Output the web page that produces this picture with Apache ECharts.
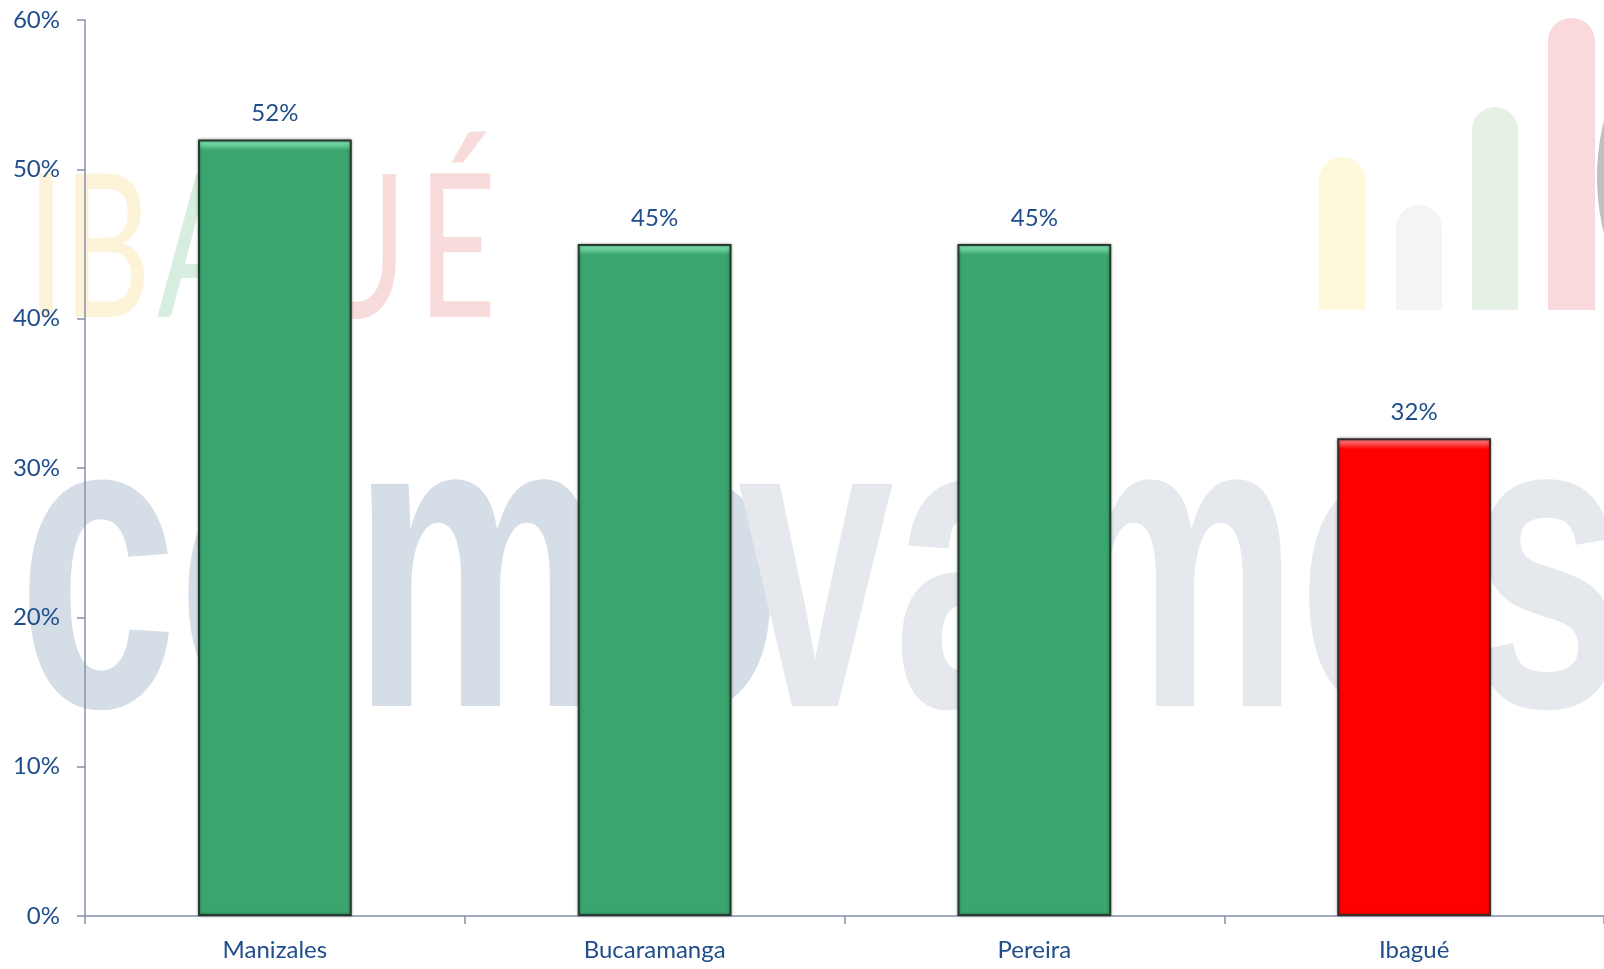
<!DOCTYPE html>
<html>
<head>
<meta charset="utf-8">
<script src="https://cdn.jsdelivr.net/npm/echarts@6/dist/echarts.min.js"></script>
<style>html,body{margin:0;padding:0;background:#fff;}#c{width:1604px;height:969px;}</style>
</head>
<body>
<div id="c"></div>
<script>
const categories = ['Manizales', 'Bucaramanga', 'Pereira', 'Ibagué'];
const values = [52, 45, 45, 32];
const highlightCategory = 'Ibagué';
const yMin = 0, yMax = 60, yInterval = 10;

const TEXT = '#1f4e8a';
const AXIS = '#8790ad';
const FONT = 'Lato';
const plotTop = 20, plotBottom = 53, H = 969;
const plotH = H - plotTop - plotBottom;

function barItem(v, cat) {
  const red = cat === highlightCategory;
  const base = red ? '#ff0000' : '#3aa56f';
  const light = red ? '#ff6a6a' : '#74d8a6';
  const hpx = (v - yMin) / (yMax - yMin) * plotH;
  const f = 11 / hpx;
  return {
    value: v,
    itemStyle: {
      color: {
        type: 'linear', x: 0, y: 0, x2: 0, y2: 1,
        colorStops: [
          { offset: 0, color: light },
          { offset: f * 0.35, color: light },
          { offset: f, color: base },
          { offset: 1, color: base }
        ]
      },
      borderColor: red ? '#3a2a2a' : '#263a2e',
      borderWidth: 2,
      shadowColor: 'rgba(0,0,0,0.35)',
      shadowBlur: 3
    }
  };
}

const chart = echarts.init(document.getElementById('c'));
const letter = (ch, cx, color) => ({
  type: 'text', z: -10, x: cx, y: 352, scaleX: 0.68,
  style: { text: ch, fill: color, font: '400 200px Lato', align: 'center', verticalAlign: 'bottom' },
  silent: true
});
const deco = (x, y, w, h, color) => ({
  type: 'rect', z: -10, silent: true,
  shape: { x: x, y: y, width: w, height: h, r: [23, 23, 0, 0] },
  style: { fill: color }
});

chart.setOption({
  animation: false,
  backgroundColor: '#ffffff',
  grid: { left: 85, right: 0, top: plotTop, bottom: plotBottom, containLabel: false },
  graphic: [
    { type: 'text', z: -10, silent: true, x: 18, y: 590, scaleX: 0.68,
      style: { text: 'como', fill: '#d5dde6', font: 'bold 421px "Liberation Sans"', verticalAlign: 'middle' } },
    { type: 'text', z: -10, silent: true, x: 738, y: 590, scaleX: 0.665,
      style: { text: 'vamos', fill: '#e5e8ec', font: 'bold 421px "Liberation Sans"', verticalAlign: 'middle' } },
    letter('I', 46, '#fdf3d8'),
    letter('B', 107, '#fdf3d8'),
    letter('A', 203, '#d7ede0'),
    letter('G', 285, '#e6ece8'),
    letter('U', 357, '#f8dcdc'),
    letter('É', 457, '#f8dcdc'),
    deco(1319, 157, 46, 153, '#fef9db'),
    deco(1396, 205, 46, 105, '#f4f5f3'),
    deco(1472, 107, 46, 203, '#e6f1e5'),
    deco(1548, 18, 47, 292, '#fad9dc'),
    { type: 'circle', z: -10, silent: true, shape: { cx: 1829, cy: 177, r: 232 }, style: { fill: '#bdbfc1' } }
  ],
  xAxis: {
    type: 'category',
    data: categories,
    axisLine: { show: true, lineStyle: { color: AXIS, width: 1.5 } },
    axisTick: { show: true, length: 8, lineStyle: { color: AXIS, width: 1.5 } },
    axisLabel: { color: TEXT, fontSize: 24, fontFamily: FONT, margin: 22 },
    splitLine: { show: false }
  },
  yAxis: {
    type: 'value',
    min: yMin, max: yMax, interval: yInterval,
    axisLine: { show: true, lineStyle: { color: AXIS, width: 1.5 } },
    axisTick: { show: true, length: 8, lineStyle: { color: AXIS, width: 1.5 } },
    axisLabel: { color: TEXT, fontSize: 24, fontFamily: FONT, margin: 25, formatter: '{value}%' },
    splitLine: { show: false }
  },
  series: [{
    type: 'bar',
    barWidth: '40.5%',
    data: values.map((v, i) => barItem(v, categories[i])),
    label: {
      show: true, position: 'top', distance: 14,
      color: TEXT, fontSize: 24, fontFamily: FONT,
      formatter: '{c}%'
    }
  }]
});
</script>
</body>
</html>
